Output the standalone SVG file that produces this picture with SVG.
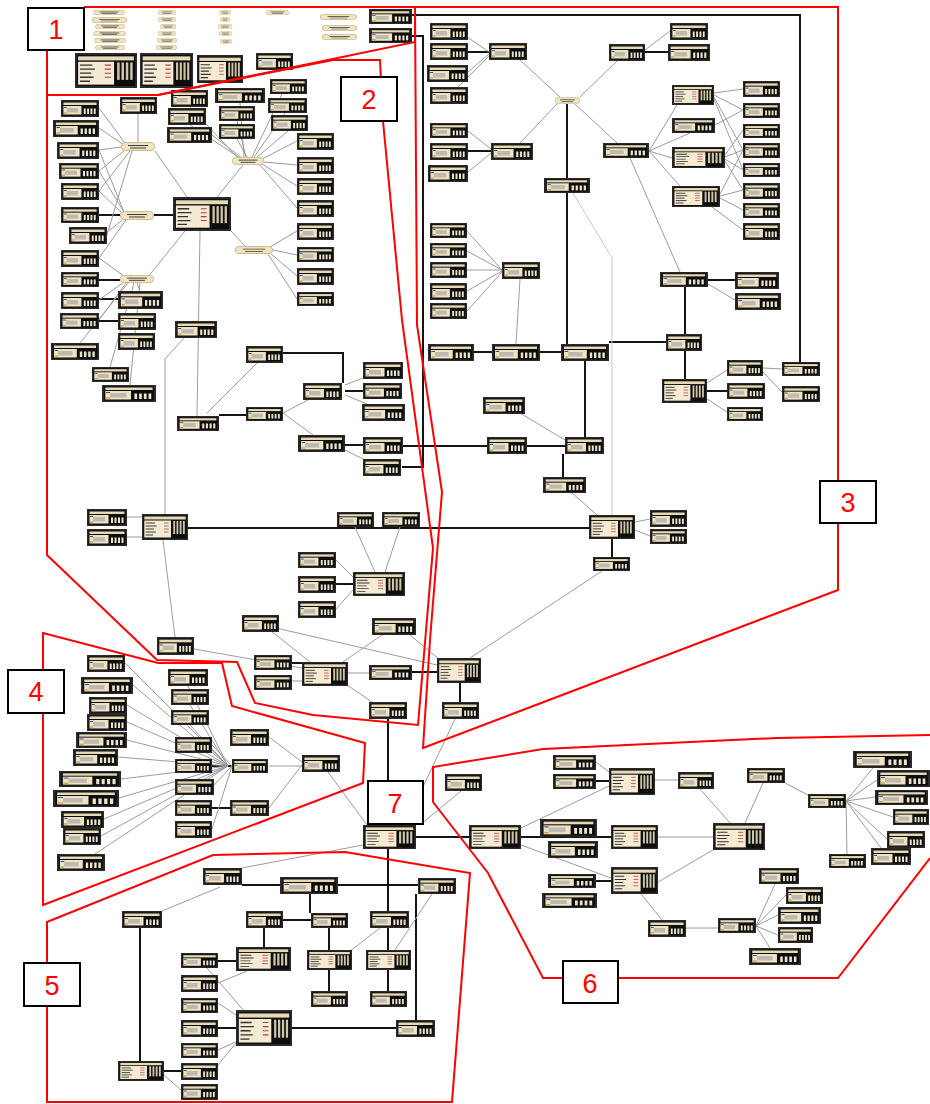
<svg xmlns="http://www.w3.org/2000/svg" xmlns:xlink="http://www.w3.org/1999/xlink" width="930" height="1104" viewBox="0 0 930 1104">
<style>
.c{stroke:#9c9c9c;stroke-width:1;fill:none}
.cl{stroke:#c8c8c8;stroke-width:1;fill:none}
.k{stroke:#141414;stroke-width:2;fill:none}
.r{stroke:#ff0000;stroke-width:2;fill:none}
.lb{fill:#ffffff;stroke:#000000;stroke-width:2}
.lt{fill:#ff0000;font-family:"Liberation Sans",Arial,sans-serif;font-size:27px;text-anchor:middle}
</style>
<defs>
<symbol id="t" viewBox="0 0 40 17" preserveAspectRatio="none">
<rect x="0.75" y="0.75" width="38.5" height="15.5" fill="#0d0d0d" stroke="#2a2a2a" stroke-width="1.5"/>
<rect x="2.5" y="2.5" width="35" height="2.5" fill="#e6dab6"/>
<rect x="2.5" y="6" width="19" height="8.5" fill="#efe3c2"/>
<rect x="6" y="8" width="12" height="4.5" fill="#bdbab2"/>
<rect x="3" y="7" width="3" height="1" fill="#2b4a9a"/>
<rect x="3" y="12.5" width="3" height="1" fill="#c58a2a"/>
<rect x="24" y="8.5" width="2" height="5.5" fill="#ece4cc"/>
<rect x="27.5" y="8.5" width="2" height="5.5" fill="#ece4cc"/>
<rect x="31" y="8.5" width="2" height="5.5" fill="#ece4cc"/>
<rect x="34.5" y="8.5" width="2" height="5.5" fill="#ece4cc"/>
</symbol>
<symbol id="g" viewBox="0 0 50 26" preserveAspectRatio="none">
<rect x="0.75" y="0.75" width="48.5" height="24.5" fill="#0d0d0d" stroke="#2a2a2a" stroke-width="1.5"/>
<rect x="2.5" y="2.5" width="45" height="3" fill="#e6dab6"/>
<rect x="2.5" y="6.5" width="29" height="17" fill="#f4ebd2"/>
<path d="M4 9h10M4 12h12M4 15h9M4 18h11M4 21h8" stroke="#333" stroke-width="1"/>
<path d="M24 9h5M24 12h5M24 15h5M24 18h5" stroke="#b04040" stroke-width="0.8"/>
<rect x="34" y="7" width="2" height="13" fill="#cfc6aa"/>
<rect x="37.5" y="7" width="2" height="13" fill="#cfc6aa"/>
<rect x="41" y="7" width="2" height="13" fill="#cfc6aa"/>
<rect x="44.5" y="7" width="2" height="13" fill="#cfc6aa"/>
</symbol>
<symbol id="p" viewBox="0 0 34 9" preserveAspectRatio="none">
<rect x="0.5" y="0.5" width="33" height="8" rx="3.5" fill="#f1e4c2" stroke="#cdbb8c" stroke-width="1"/>
<path d="M7 3.5h20M9 6h16" stroke="#3a3a3a" stroke-width="1"/>
</symbol>
</defs>
<rect x="0" y="0" width="930" height="1104" fill="#ffffff"/>

<g id="connectors">
<path class="k" d="M412 15H800V362"/>
<path class="k" d="M412 36H423V467H402"/>
<path class="k" d="M188 528H590"/>
<path class="k" d="M345 445H363M403 446H487"/>
<path class="k" d="M527 446H565"/>
<path class="k" d="M585 361V437"/>
<path class="k" d="M563 454V477"/>
<path class="k" d="M612 539V557"/>
<path class="k" d="M567 104V344"/>
<path class="k" d="M474 352H492M540 352H561M609 342H666"/>
<path class="k" d="M685 287V334M685 351V379"/>
<path class="k" d="M708 280H735"/>
<path class="k" d="M707 391H727"/>
<path class="k" d="M645 52H668"/>
<path class="k" d="M468 52H489"/>
<path class="k" d="M468 151H491"/>
<path class="k" d="M283 353H343V383"/>
<path class="k" d="M219 415H246"/>
<path class="k" d="M345 391H363"/>
<path class="k" d="M154 215H173M99 215H120M99 280H120M99 299H118M99 321H118"/>
<path class="k" d="M336 584H353"/>
<path class="k" d="M292 663H302"/>
<path class="k" d="M412 672H437M460 683V702"/>
<path class="k" d="M388 719V825M388 849V911M416 837H469M521 837H611"/>
<path class="k" d="M242 885H280M338 885H418M310 894V913M283 920H311M264 928V947M329 928V950M388 928V950M329 970V991M388 970V991M416 894V1020M292 1028H396M140 928V1061M164 1071H181M218 961H236M218 1028H236"/>
<path class="k" d="M596 781H609M596 881H611"/>
<path class="k" d="M212 766H232M212 808H230"/>
<path class="c" d="M467 37L489 52M468 72L489 54M458 87L489 56M520 60L560 97M580 97L617 61M645 50L670 31M557 104L520 143M575 104L617 143"/>
<path class="cl" d="M573 193L612 258V515"/>
<path class="c" d="M468 131L491 149M468 172L491 153M649 151L677 105M649 151L690 133M649 151L672 158M649 151L680 186M630 158L680 272"/>
<path class="c" d="M714 93L743 89M714 95L743 110M714 97L743 150M714 99L743 170M715 125L743 110M725 155L743 130M725 157L743 150M725 159L743 170M725 161L743 190M720 194L743 150M720 196L743 190M720 198L743 210M712 207L743 230"/>
<path class="c" d="M467 231L502 270M467 251L502 270M467 270L502 270M467 291L502 271M467 311L502 272M520 279L516 344"/>
<path class="c" d="M708 284L735 300M707 383L727 370M707 399L727 412M763 368L782 369M763 372L782 392"/>
<path class="c" d="M520 413L565 440M572 493L597 515M635 522L650 519M635 530L650 536M602 571L470 658"/>
<path class="c" d="M99 108L125 143M99 128L124 145M99 150L121 147M99 171L125 150M99 191L130 151M107 235L132 151M138 114V142M155 151L187 197"/>
<path class="c" d="M99 150L124 212M99 171L124 212M99 191L122 213M107 232L124 219M99 258L126 220"/>
<path class="c" d="M99 258L124 276M99 300L124 282M99 320L126 283M80 343L128 283M110 367L134 283M130 385L140 283M140 291L137 283M143 283L185 231"/>
<path class="c" d="M190 107L238 158M190 125L240 158M212 135L242 158M240 103L244 157M237 121L246 157M237 139L247 157M282 94L252 157M285 113L254 157M288 131L256 158M297 141L262 159M297 165L264 162M297 186L262 164M297 208L260 165M243 165L217 197"/>
<path class="c" d="M297 231L270 247M297 255L273 250M297 276L270 253M297 299L268 254M231 231L245 246"/>
<path class="c" d="M185 337L165 359V515M200 231L197 416M207 413L258 362M283 413L310 399M283 413L313 435M345 385L363 378M345 395L367 404M345 450L367 461"/>
<path class="c" d="M127 517H142M127 537H142M355 527L375 572M400 527L385 572M336 560L353 577M336 609L353 590"/>
<path class="c" d="M163 540L175 637M194 649L302 668M270 630L310 662M382 635L343 662M410 635L440 660M276 628L437 665M348 673H369M347 685L372 702M455 719L405 825M292 681H302"/>
<path class="c" d="M328 772L367 825M363 845L242 868M461 791L420 825"/>
<path class="c" d="M125 663L228 766M133 685L228 766M127 705L228 766M127 722L228 766M127 740L228 766M118 757L228 766M121 779L228 766M119 798L228 766M104 819L228 766M101 836L228 766M95 854L228 766M188 686L228 766M190 705L228 766M190 725L228 766M212 745L232 766M212 787L232 766M212 829L232 766M269 737L302 762M269 766H302M269 808L302 765"/>
<path class="c" d="M162 911L220 887M345 955L380 928M395 950L432 894M207 968L245 1012M218 983L247 971M218 1003L236 1015M218 1050L240 1040M218 1065L236 1043M164 1075L181 1090"/>
<path class="c" d="M521 828L609 786M521 845L611 878M596 762L609 772M655 780H678M700 789L730 823M658 837H713M658 882L713 850M641 894L662 920M686 928H718M756 926L775 884M756 926L786 895M756 926L778 915M756 926L778 935M756 926L770 948M763 783L745 823M785 783L808 795M846 801L873 768M846 801L877 780M846 801L875 797M846 801L893 817M846 801L887 839M846 801L881 848M846 801L847 854"/>
</g>

<g id="region1">
<g id="r1p01"><use href="#p" x="93" y="10" width="32" height="5"/></g>
<g id="r1p02"><use href="#p" x="92" y="17" width="35" height="6"/></g>
<g id="r1p03"><use href="#p" x="95" y="24" width="30" height="5"/></g>
<g id="r1p04"><use href="#p" x="93" y="31" width="33" height="5"/></g>
<g id="r1p05"><use href="#p" x="94" y="38" width="32" height="5"/></g>
<g id="r1p06"><use href="#p" x="95" y="45" width="30" height="5"/></g>
<g id="r1p07"><use href="#p" x="158" y="10" width="18" height="5"/></g>
<g id="r1p08"><use href="#p" x="158" y="17" width="18" height="5"/></g>
<g id="r1p09"><use href="#p" x="160" y="24" width="16" height="5"/></g>
<g id="r1p10"><use href="#p" x="158" y="31" width="18" height="5"/></g>
<g id="r1p11"><use href="#p" x="157" y="38" width="20" height="5"/></g>
<g id="r1p12"><use href="#p" x="156" y="45" width="21" height="5"/></g>
<g id="r1p13"><use href="#p" x="219" y="10" width="12" height="5"/></g>
<g id="r1p14"><use href="#p" x="220" y="17" width="10" height="5"/></g>
<g id="r1p15"><use href="#p" x="218" y="24" width="14" height="5"/></g>
<g id="r1p16"><use href="#p" x="219" y="31" width="13" height="5"/></g>
<g id="r1p17"><use href="#p" x="220" y="39" width="12" height="5"/></g>
<g id="r1p18"><use href="#p" x="266" y="10" width="23" height="5"/></g>
<g id="r1p19"><use href="#p" x="320" y="14" width="37" height="6"/></g>
<g id="r1p20"><use href="#p" x="322" y="25" width="35" height="6"/></g>
<g id="r1p21"><use href="#p" x="322" y="34" width="35" height="6"/></g>
<g id="r1t01"><use href="#t" x="369" y="9" width="43" height="15"/></g>
<g id="r1t02"><use href="#t" x="369" y="28" width="43" height="15"/></g>
<g id="r1g01"><use href="#g" x="75" y="53" width="62" height="35"/></g>
<g id="r1g02"><use href="#g" x="140" y="53" width="53" height="35"/></g>
<g id="r1g03"><use href="#g" x="197" y="55" width="46" height="28"/></g>
<g id="r1t03"><use href="#t" x="256" y="53" width="37" height="17"/></g>
</g>

<g id="region2">
<g id="r2t01"><use href="#t" x="61" y="100" width="38" height="17"/></g>
<g id="r2t02"><use href="#t" x="120" y="97" width="37" height="17"/></g>
<g id="r2t03"><use href="#t" x="53" y="120" width="46" height="17"/></g>
<g id="r2t04"><use href="#t" x="57" y="142" width="42" height="17"/></g>
<g id="r2t05"><use href="#t" x="59" y="163" width="40" height="16"/></g>
<g id="r2t06"><use href="#t" x="61" y="183" width="38" height="17"/></g>
<g id="r2t07"><use href="#t" x="61" y="207" width="38" height="16"/></g>
<g id="r2t08"><use href="#t" x="69" y="227" width="38" height="17"/></g>
<g id="r2t09"><use href="#t" x="61" y="250" width="38" height="17"/></g>
<g id="r2t10"><use href="#t" x="61" y="272" width="38" height="15"/></g>
<g id="r2t11"><use href="#t" x="61" y="292" width="38" height="17"/></g>
<g id="r2t12"><use href="#t" x="118" y="291" width="45" height="18"/></g>
<g id="r2t13"><use href="#t" x="60" y="313" width="39" height="16"/></g>
<g id="r2t14"><use href="#t" x="118" y="313" width="38" height="17"/></g>
<g id="r2t15"><use href="#t" x="118" y="333" width="37" height="17"/></g>
<g id="r2t16"><use href="#t" x="51" y="343" width="48" height="17"/></g>
<g id="r2t17"><use href="#t" x="92" y="367" width="37" height="15"/></g>
<g id="r2t18"><use href="#t" x="102" y="385" width="54" height="17"/></g>
<g id="r2t19"><use href="#t" x="171" y="90" width="37" height="17"/></g>
<g id="r2t20"><use href="#t" x="168" y="108" width="38" height="17"/></g>
<g id="r2t21"><use href="#t" x="167" y="127" width="45" height="16"/></g>
<g id="r2t22"><use href="#t" x="215" y="88" width="50" height="15"/></g>
<g id="r2t23"><use href="#t" x="219" y="106" width="36" height="15"/></g>
<g id="r2t24"><use href="#t" x="219" y="124" width="36" height="15"/></g>
<g id="r2t25"><use href="#t" x="270" y="79" width="37" height="15"/></g>
<g id="r2t26"><use href="#t" x="268" y="98" width="39" height="15"/></g>
<g id="r2t27"><use href="#t" x="271" y="115" width="37" height="16"/></g>
<g id="r2t28"><use href="#t" x="297" y="133" width="37" height="17"/></g>
<g id="r2t29"><use href="#t" x="297" y="157" width="37" height="17"/></g>
<g id="r2t30"><use href="#t" x="297" y="178" width="37" height="17"/></g>
<g id="r2t31"><use href="#t" x="297" y="200" width="37" height="17"/></g>
<g id="r2t32"><use href="#t" x="297" y="223" width="37" height="17"/></g>
<g id="r2t33"><use href="#t" x="297" y="247" width="37" height="15"/></g>
<g id="r2t34"><use href="#t" x="297" y="268" width="37" height="17"/></g>
<g id="r2t35"><use href="#t" x="297" y="292" width="37" height="14"/></g>
<g id="r2p01"><use href="#p" x="121" y="142" width="34" height="9"/></g>
<g id="r2p02"><use href="#p" x="232" y="157" width="32" height="8"/></g>
<g id="r2p03"><use href="#p" x="120" y="211" width="34" height="9"/></g>
<g id="r2p04"><use href="#p" x="235" y="246" width="38" height="8"/></g>
<g id="r2p05"><use href="#p" x="120" y="275" width="34" height="8"/></g>
<g id="r2g01"><use href="#g" x="173" y="197" width="58" height="34"/></g>
<g id="r2t36"><use href="#t" x="175" y="321" width="42" height="17"/></g>
<g id="r2t37"><use href="#t" x="246" y="346" width="37" height="17"/></g>
<g id="r2t38"><use href="#t" x="303" y="383" width="39" height="17"/></g>
<g id="r2t39"><use href="#t" x="363" y="362" width="40" height="17"/></g>
<g id="r2t40"><use href="#t" x="363" y="383" width="39" height="16"/></g>
<g id="r2t41"><use href="#t" x="362" y="404" width="43" height="17"/></g>
<g id="r2t42"><use href="#t" x="177" y="416" width="42" height="15"/></g>
<g id="r2t43"><use href="#t" x="246" y="407" width="37" height="14"/></g>
<g id="r2t44"><use href="#t" x="298" y="435" width="47" height="17"/></g>
<g id="r2t45"><use href="#t" x="363" y="437" width="40" height="17"/></g>
<g id="r2t46"><use href="#t" x="363" y="459" width="38" height="17"/></g>
<g id="r2t47"><use href="#t" x="87" y="509" width="40" height="17"/></g>
<g id="r2t48"><use href="#t" x="87" y="529" width="40" height="17"/></g>
<g id="r2g02"><use href="#g" x="142" y="514" width="46" height="26"/></g>
<g id="r2t49"><use href="#t" x="337" y="512" width="37" height="15"/></g>
<g id="r2t50"><use href="#t" x="382" y="512" width="38" height="15"/></g>
<g id="r2t51"><use href="#t" x="298" y="552" width="38" height="16"/></g>
<g id="r2t52"><use href="#t" x="298" y="576" width="38" height="17"/></g>
<g id="r2t53"><use href="#t" x="298" y="601" width="38" height="17"/></g>
<g id="r2g03"><use href="#g" x="353" y="572" width="52" height="24"/></g>
<g id="r2t54"><use href="#t" x="242" y="615" width="37" height="17"/></g>
<g id="r2t55"><use href="#t" x="372" y="618" width="44" height="17"/></g>
<g id="r2t56"><use href="#t" x="157" y="637" width="37" height="18"/></g>
<g id="r2t57"><use href="#t" x="254" y="655" width="38" height="15"/></g>
<g id="r2t58"><use href="#t" x="254" y="675" width="38" height="15"/></g>
<g id="r2g04"><use href="#g" x="302" y="662" width="46" height="24"/></g>
<g id="r2t59"><use href="#t" x="369" y="665" width="43" height="15"/></g>
<g id="r2t60"><use href="#t" x="369" y="702" width="38" height="17"/></g>
</g>

<g id="region3">
<g id="r3t01"><use href="#t" x="430" y="23" width="38" height="17"/></g>
<g id="r3t02"><use href="#t" x="430" y="43" width="38" height="17"/></g>
<g id="r3t03"><use href="#t" x="427" y="65" width="41" height="17"/></g>
<g id="r3t04"><use href="#t" x="430" y="87" width="38" height="17"/></g>
<g id="r3t05"><use href="#t" x="489" y="43" width="38" height="17"/></g>
<g id="r3p01"><use href="#p" x="555" y="97" width="25" height="7"/></g>
<g id="r3t06"><use href="#t" x="609" y="44" width="36" height="17"/></g>
<g id="r3t07"><use href="#t" x="670" y="23" width="38" height="17"/></g>
<g id="r3t08"><use href="#t" x="668" y="44" width="42" height="17"/></g>
<g id="r3t09"><use href="#t" x="430" y="123" width="38" height="15"/></g>
<g id="r3t10"><use href="#t" x="430" y="143" width="38" height="17"/></g>
<g id="r3t11"><use href="#t" x="428" y="165" width="40" height="17"/></g>
<g id="r3t12"><use href="#t" x="491" y="143" width="42" height="17"/></g>
<g id="r3t13"><use href="#t" x="544" y="178" width="46" height="15"/></g>
<g id="r3t14"><use href="#t" x="603" y="143" width="46" height="15"/></g>
<g id="r3g01"><use href="#g" x="672" y="85" width="42" height="20"/></g>
<g id="r3t15"><use href="#t" x="672" y="118" width="43" height="15"/></g>
<g id="r3g02"><use href="#g" x="672" y="147" width="53" height="21"/></g>
<g id="r3g03"><use href="#g" x="672" y="186" width="48" height="21"/></g>
<g id="r3t16"><use href="#t" x="743" y="81" width="37" height="16"/></g>
<g id="r3t17"><use href="#t" x="743" y="103" width="37" height="15"/></g>
<g id="r3t18"><use href="#t" x="743" y="124" width="37" height="14"/></g>
<g id="r3t19"><use href="#t" x="743" y="143" width="37" height="15"/></g>
<g id="r3t20"><use href="#t" x="743" y="163" width="37" height="14"/></g>
<g id="r3t21"><use href="#t" x="743" y="183" width="37" height="16"/></g>
<g id="r3t22"><use href="#t" x="743" y="203" width="37" height="15"/></g>
<g id="r3t23"><use href="#t" x="743" y="223" width="37" height="17"/></g>
<g id="r3t24"><use href="#t" x="430" y="223" width="37" height="15"/></g>
<g id="r3t25"><use href="#t" x="430" y="243" width="37" height="15"/></g>
<g id="r3t26"><use href="#t" x="430" y="262" width="37" height="16"/></g>
<g id="r3t27"><use href="#t" x="430" y="283" width="37" height="17"/></g>
<g id="r3t28"><use href="#t" x="430" y="303" width="37" height="16"/></g>
<g id="r3t29"><use href="#t" x="502" y="262" width="38" height="17"/></g>
<g id="r3t30"><use href="#t" x="660" y="272" width="48" height="15"/></g>
<g id="r3t31"><use href="#t" x="735" y="272" width="44" height="17"/></g>
<g id="r3t32"><use href="#t" x="735" y="293" width="46" height="17"/></g>
<g id="r3t33"><use href="#t" x="428" y="344" width="46" height="17"/></g>
<g id="r3t34"><use href="#t" x="492" y="344" width="48" height="17"/></g>
<g id="r3t35"><use href="#t" x="561" y="344" width="48" height="17"/></g>
<g id="r3t36"><use href="#t" x="666" y="334" width="36" height="17"/></g>
<g id="r3g04"><use href="#g" x="662" y="379" width="45" height="24"/></g>
<g id="r3t37"><use href="#t" x="727" y="360" width="36" height="16"/></g>
<g id="r3t38"><use href="#t" x="727" y="383" width="38" height="16"/></g>
<g id="r3t39"><use href="#t" x="727" y="407" width="36" height="14"/></g>
<g id="r3t40"><use href="#t" x="782" y="362" width="38" height="14"/></g>
<g id="r3t41"><use href="#t" x="782" y="386" width="38" height="16"/></g>
<g id="r3t42"><use href="#t" x="483" y="397" width="42" height="17"/></g>
<g id="r3t43"><use href="#t" x="487" y="437" width="40" height="17"/></g>
<g id="r3t44"><use href="#t" x="565" y="437" width="39" height="17"/></g>
<g id="r3t45"><use href="#t" x="543" y="477" width="43" height="16"/></g>
<g id="r3g05"><use href="#g" x="589" y="515" width="46" height="24"/></g>
<g id="r3t46"><use href="#t" x="650" y="510" width="37" height="17"/></g>
<g id="r3t47"><use href="#t" x="650" y="529" width="37" height="15"/></g>
<g id="r3t48"><use href="#t" x="593" y="557" width="37" height="14"/></g>
<g id="r3g06"><use href="#g" x="437" y="658" width="44" height="25"/></g>
<g id="r3t49"><use href="#t" x="442" y="702" width="37" height="17"/></g>
</g>

<g id="region4">
<g id="r4t01"><use href="#t" x="87" y="655" width="38" height="17"/></g>
<g id="r4t02"><use href="#t" x="81" y="677" width="52" height="17"/></g>
<g id="r4t03"><use href="#t" x="89" y="697" width="38" height="17"/></g>
<g id="r4t04"><use href="#t" x="87" y="714" width="40" height="17"/></g>
<g id="r4t05"><use href="#t" x="76" y="732" width="51" height="16"/></g>
<g id="r4t06"><use href="#t" x="73" y="749" width="45" height="17"/></g>
<g id="r4t07"><use href="#t" x="59" y="771" width="62" height="16"/></g>
<g id="r4t08"><use href="#t" x="53" y="790" width="66" height="17"/></g>
<g id="r4t09"><use href="#t" x="61" y="811" width="43" height="17"/></g>
<g id="r4t10"><use href="#t" x="63" y="828" width="38" height="17"/></g>
<g id="r4t11"><use href="#t" x="57" y="854" width="48" height="17"/></g>
<g id="r4t12"><use href="#t" x="168" y="669" width="40" height="17"/></g>
<g id="r4t13"><use href="#t" x="171" y="689" width="38" height="16"/></g>
<g id="r4t14"><use href="#t" x="171" y="710" width="38" height="15"/></g>
<g id="r4t15"><use href="#t" x="175" y="737" width="37" height="16"/></g>
<g id="r4t16"><use href="#t" x="175" y="759" width="37" height="14"/></g>
<g id="r4t17"><use href="#t" x="175" y="779" width="39" height="16"/></g>
<g id="r4t18"><use href="#t" x="175" y="800" width="37" height="16"/></g>
<g id="r4t19"><use href="#t" x="175" y="821" width="37" height="17"/></g>
<g id="r4t20"><use href="#t" x="230" y="729" width="39" height="17"/></g>
<g id="r4t21"><use href="#t" x="232" y="759" width="36" height="14"/></g>
<g id="r4t22"><use href="#t" x="230" y="800" width="39" height="16"/></g>
<g id="r4t23"><use href="#t" x="302" y="755" width="38" height="17"/></g>
</g>

<g id="region7">
<g id="r7g01"><use href="#g" x="363" y="825" width="53" height="24"/></g>
</g>

<g id="region6">
<g id="r6t01"><use href="#t" x="445" y="774" width="37" height="17"/></g>
<g id="r6g01"><use href="#g" x="469" y="825" width="52" height="24"/></g>
<g id="r6t02"><use href="#t" x="553" y="755" width="43" height="15"/></g>
<g id="r6t03"><use href="#t" x="553" y="774" width="43" height="15"/></g>
<g id="r6g02"><use href="#g" x="609" y="768" width="46" height="27"/></g>
<g id="r6t04"><use href="#t" x="678" y="772" width="36" height="17"/></g>
<g id="r6t05"><use href="#t" x="540" y="819" width="57" height="18"/></g>
<g id="r6t06"><use href="#t" x="548" y="841" width="50" height="17"/></g>
<g id="r6g03"><use href="#g" x="611" y="825" width="47" height="24"/></g>
<g id="r6g04"><use href="#g" x="713" y="823" width="52" height="27"/></g>
<g id="r6t07"><use href="#t" x="548" y="874" width="48" height="14"/></g>
<g id="r6t08"><use href="#t" x="542" y="893" width="55" height="15"/></g>
<g id="r6g05"><use href="#g" x="611" y="867" width="47" height="27"/></g>
<g id="r6t09"><use href="#t" x="648" y="920" width="38" height="17"/></g>
<g id="r6t10"><use href="#t" x="718" y="918" width="38" height="15"/></g>
<g id="r6t11"><use href="#t" x="747" y="768" width="38" height="15"/></g>
<g id="r6t12"><use href="#t" x="808" y="794" width="38" height="14"/></g>
<g id="r6t13"><use href="#t" x="853" y="751" width="59" height="17"/></g>
<g id="r6t14"><use href="#t" x="877" y="770" width="53" height="17"/></g>
<g id="r6t15"><use href="#t" x="875" y="790" width="53" height="15"/></g>
<g id="r6t16"><use href="#t" x="893" y="809" width="36" height="16"/></g>
<g id="r6t17"><use href="#t" x="887" y="831" width="38" height="17"/></g>
<g id="r6t18"><use href="#t" x="871" y="848" width="40" height="17"/></g>
<g id="r6t19"><use href="#t" x="829" y="854" width="37" height="14"/></g>
<g id="r6t20"><use href="#t" x="759" y="868" width="40" height="16"/></g>
<g id="r6t21"><use href="#t" x="786" y="887" width="37" height="17"/></g>
<g id="r6t22"><use href="#t" x="778" y="907" width="43" height="17"/></g>
<g id="r6t23"><use href="#t" x="778" y="927" width="35" height="16"/></g>
<g id="r6t24"><use href="#t" x="749" y="948" width="52" height="17"/></g>
</g>

<g id="region5">
<g id="r5t01"><use href="#t" x="203" y="868" width="39" height="17"/></g>
<g id="r5t02"><use href="#t" x="280" y="877" width="58" height="17"/></g>
<g id="r5t03"><use href="#t" x="418" y="878" width="38" height="16"/></g>
<g id="r5t04"><use href="#t" x="122" y="911" width="40" height="17"/></g>
<g id="r5t05"><use href="#t" x="246" y="911" width="37" height="17"/></g>
<g id="r5t06"><use href="#t" x="311" y="913" width="37" height="15"/></g>
<g id="r5t07"><use href="#t" x="370" y="911" width="39" height="17"/></g>
<g id="r5g01"><use href="#g" x="236" y="947" width="55" height="24"/></g>
<g id="r5t08"><use href="#t" x="181" y="953" width="37" height="15"/></g>
<g id="r5g02"><use href="#g" x="307" y="950" width="45" height="20"/></g>
<g id="r5g03"><use href="#g" x="366" y="950" width="45" height="20"/></g>
<g id="r5t09"><use href="#t" x="181" y="975" width="37" height="17"/></g>
<g id="r5t10"><use href="#t" x="181" y="998" width="37" height="15"/></g>
<g id="r5t11"><use href="#t" x="181" y="1020" width="37" height="17"/></g>
<g id="r5g04"><use href="#g" x="236" y="1010" width="56" height="36"/></g>
<g id="r5t12"><use href="#t" x="396" y="1020" width="39" height="17"/></g>
<g id="r5t13"><use href="#t" x="311" y="991" width="37" height="16"/></g>
<g id="r5t14"><use href="#t" x="370" y="991" width="37" height="16"/></g>
<g id="r5t15"><use href="#t" x="181" y="1043" width="37" height="15"/></g>
<g id="r5g05"><use href="#g" x="118" y="1061" width="46" height="20"/></g>
<g id="r5t16"><use href="#t" x="181" y="1063" width="37" height="17"/></g>
<g id="r5t17"><use href="#t" x="181" y="1084" width="37" height="16"/></g>
</g>

<g id="regions">
<path class="r" d="M84 7H415V42L158 95H47V50"/>
<path class="r" d="M158 95L333 60H380L383 121L402 320L433 548L418 725L313 715L255 703L237 662L157 660L47 555V95"/>
<path class="r" d="M415 7H838V590L423 748L430 640L442 492L417 325Z"/>
<path class="r" d="M43 633L158 663H222L232 706L365 743L363 783L43 905Z"/>
<path class="r" d="M47 922L213 855L345 852L470 873L452 1102H47Z"/>
<path class="r" d="M930 735L777 738L543 749L433 767V802L488 873L543 978H838L930 858"/>
</g>

<g id="labels">
<g id="label1"><rect class="lb" x="28" y="8" width="56" height="42"/><text class="lt" x="56" y="39">1</text></g>
<g id="label2"><rect class="lb" x="341" y="77" width="56" height="44"/><text class="lt" x="369" y="109">2</text></g>
<g id="label3"><rect class="lb" x="820" y="481" width="56" height="42"/><text class="lt" x="848" y="512">3</text></g>
<g id="label4"><rect class="lb" x="8" y="670" width="56" height="43"/><text class="lt" x="36" y="701">4</text></g>
<g id="label5"><rect class="lb" x="24" y="963" width="56" height="43"/><text class="lt" x="52" y="995">5</text></g>
<g id="label6"><rect class="lb" x="563" y="961" width="55" height="42"/><text class="lt" x="590" y="993">6</text></g>
<g id="label7"><rect class="lb" x="368" y="781" width="55" height="43"/><text class="lt" x="395" y="813">7</text></g>
</g>
</svg>
